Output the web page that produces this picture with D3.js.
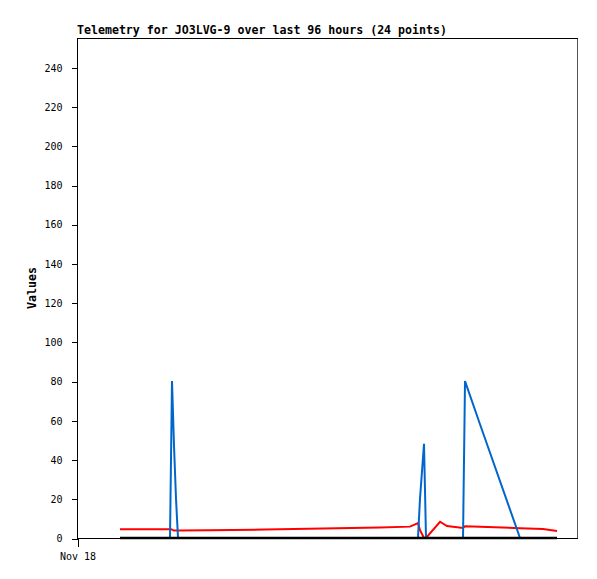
<!DOCTYPE html>
<html>
<head>
<meta charset="utf-8">
<script src="https://cdn.jsdelivr.net/npm/d3@7"></script>
<style>
  body { margin: 0; background: #fff; }
  text { font-family: "DejaVu Sans Mono", monospace; }
</style>
</head>
<body>
<div id="chart"></div>
<script>
// hours after Nov 18 00:00 for each of the 24 samples
var hours = [9.45, 20.43, 20.65, 20.87, 21.31, 21.75, 22.19, 28.78, 41.30, 54.04, 66.56, 73.15,
  74.91, 75.35, 76.23, 76.67, 79.75, 81.28, 84.80, 85.24, 88.53, 97.32, 102.37, 105.45];
var redValues = [4.5, 4.5, 4.5, 4.3, 3.8, 3.8, 3.8, 3.9, 4.3, 4.8, 5.4, 5.8,
  7.6, 4.0, 0, 0, 8.3, 6.1, 5.1, 6.0, 5.8, 5.0, 4.6, 3.6];
var blueValues = [0, 0, 40, 80, 47, 20, 0, 0, 0, 0, 0, 0,
  0, 20, 48, 0, 0, 0, 0, 80, 58, 0, 0, 0];
var blackValues = [0, 0, 0, 0, 0, 0, 0, 0, 0, 0, 0, 0,
  0, 0, 0, 0, 0, 0, 0, 0, 0, 0, 0, 0];
var yTicks = [0, 20, 40, 60, 80, 100, 120, 140, 160, 180, 200, 220, 240];
var titleText = 'Telemetry for JO3LVG-9 over last 96 hours (24 points)';
var yLabel = 'Values';
var xTickLabel = 'Nov 18';

var width = 597;
var height = 579;
var margin = { top: 38, right: 20, bottom: 41, left: 77 };
var start = new Date(2023, 10, 18, 0, 0);
var end = new Date(start.getTime() + 109.84 * 3600000);

var svg = d3.select('#chart').append('svg')
  .attr('width', width)
  .attr('height', height);

var x = d3.scaleTime()
  .domain([start, end])
  .range([margin.left, width - margin.right]);
var y = d3.scaleLinear()
  .domain([0, 255])
  .range([height - margin.bottom, margin.top]);

var times = hours.map(function (h) { return new Date(start.getTime() + h * 3600000); });

// frame
var frame = svg.append('g').attr('shape-rendering', 'crispEdges');
frame.append('line')
  .attr('x1', x.range()[1] + 0.5).attr('x2', x.range()[1] + 0.5)
  .attr('y1', y.range()[1]).attr('y2', y.range()[0])
  .attr('stroke', '#555');
frame.append('line')
  .attr('x1', x.range()[0]).attr('x2', x.range()[1] + 1)
  .attr('y1', y.range()[1] + 0.5).attr('y2', y.range()[1] + 0.5)
  .attr('stroke', '#000');
frame.append('line')
  .attr('x1', x.range()[0]).attr('x2', x.range()[1] + 1)
  .attr('y1', y.range()[0] + 0.5).attr('y2', y.range()[0] + 0.5)
  .attr('stroke', '#000');

// y axis
var yAxis = svg.append('g')
  .attr('transform', 'translate(' + (margin.left + 0.5) + ',0.5)')
  .attr('shape-rendering', 'crispEdges')
  .call(d3.axisLeft(y).tickValues(yTicks).tickSize(6).tickPadding(9).tickSizeOuter(0));
yAxis.select('.domain').remove();
yAxis.append('line')
  .attr('y1', y.range()[1]).attr('y2', y.range()[0])
  .attr('stroke', '#000');
yAxis.selectAll('text')
  .style('font-size', '10px')
  .attr('fill', '#000');

// x axis (single date tick)
var xAxis = svg.append('g')
  .attr('transform', 'translate(0.5,' + (y.range()[0] + 0.5) + ')')
  .attr('shape-rendering', 'crispEdges')
  .call(d3.axisBottom(x).tickValues([start]).tickSize(8).tickPadding(6)
    .tickFormat(function () { return xTickLabel; }));
xAxis.select('.domain').remove();
xAxis.selectAll('text')
  .style('font-size', '10px')
  .attr('fill', '#000');

// series
function drawSeries(values, color, w) {
  var line = d3.line()
    .x(function (d, i) { return x(times[i]); })
    .y(function (d) { return y(d); });
  svg.append('path')
    .datum(values)
    .attr('d', line)
    .attr('fill', 'none')
    .attr('stroke', color)
    .attr('stroke-width', w)
    .attr('stroke-linejoin', 'miter');
}
drawSeries(redValues, '#ff0000', 2);
drawSeries(blueValues, '#0066cc', 2);
drawSeries(blackValues, '#000000', 2.5);

// title and label
svg.append('text')
  .attr('x', margin.left)
  .attr('y', 34)
  .style('font-size', '11.6px')
  .style('font-weight', 'bold')
  .text(titleText);
svg.append('text')
  .attr('transform', 'translate(36,' + (y.range()[0] + y.range()[1]) / 2 + ') rotate(-90)')
  .attr('text-anchor', 'middle')
  .style('font-size', '11.6px')
  .style('font-weight', 'bold')
  .text(yLabel);
</script>
</body>
</html>
